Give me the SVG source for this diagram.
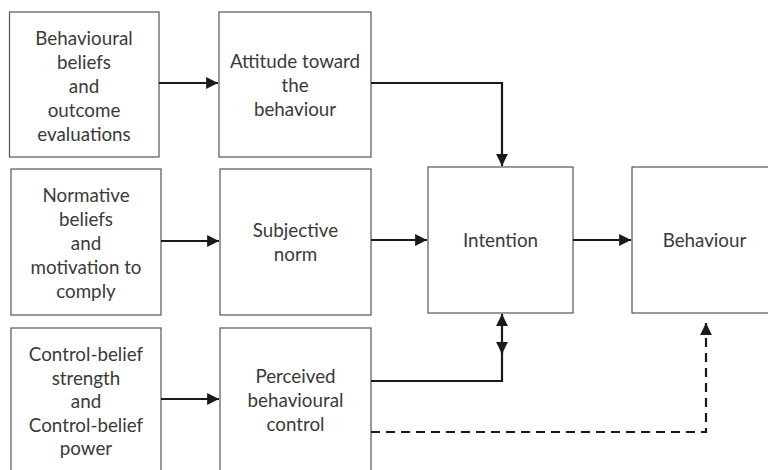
<svg xmlns="http://www.w3.org/2000/svg" width="768" height="470" viewBox="0 0 768 470">
<style>
.box{fill:#fff;stroke:#555;stroke-width:1.2}
.t{font-family:Lato,"Open Sans","Liberation Sans",sans-serif;font-size:18.8px;fill:#3a3a3a;text-anchor:middle}
.c{fill:none;stroke:#1a1a1a;stroke-width:2.2}
.d{stroke-dasharray:9,6}
</style>
<defs>
<marker id="ah" viewBox="0 0 10 10" refX="10" refY="5" markerWidth="5.4" markerHeight="5.4" orient="auto" markerUnits="strokeWidth">
<path d="M0,0L10,5L0,10z" fill="#1a1a1a"/>
</marker>
<marker id="as" viewBox="0 0 10 10" refX="0" refY="5" markerWidth="5.4" markerHeight="5.4" orient="auto" markerUnits="strokeWidth">
<path d="M10,0L0,5L10,10z" fill="#1a1a1a"/>
</marker>
</defs>
<rect width="768" height="470" fill="#fff"/>
<g id="n1"><rect class="box" x="9.5" y="12" width="149.5" height="145"/>
<text class="t"><tspan x="84" y="45">Behavioural</tspan><tspan x="84" y="69">beliefs</tspan><tspan x="84" y="93">and</tspan><tspan x="84" y="117">outcome</tspan><tspan x="84" y="141">evaluations</tspan></text></g>
<g id="n2"><rect class="box" x="219" y="12" width="152" height="145"/>
<text class="t"><tspan x="295" y="68">Attitude toward</tspan><tspan x="295" y="92">the</tspan><tspan x="295" y="116">behaviour</tspan></text></g>
<g id="n3"><rect class="box" x="11" y="169" width="150" height="146"/>
<text class="t"><tspan x="86" y="202">Normative</tspan><tspan x="86" y="226">beliefs</tspan><tspan x="86" y="250">and</tspan><tspan x="86" y="274">motivation to</tspan><tspan x="86" y="298">comply</tspan></text></g>
<g id="n4"><rect class="box" x="220" y="169" width="151" height="146"/>
<text class="t"><tspan x="295.5" y="237">Subjective</tspan><tspan x="295.5" y="261">norm</tspan></text></g>
<g id="n5"><rect class="box" x="11" y="328" width="150" height="160"/>
<text class="t"><tspan x="86" y="361">Control-belief</tspan><tspan x="86" y="384.5">strength</tspan><tspan x="86" y="408">and</tspan><tspan x="86" y="431.5">Control-belief</tspan><tspan x="86" y="455">power</tspan></text></g>
<g id="n6"><rect class="box" x="220" y="328" width="151" height="160"/>
<text class="t"><tspan x="295.5" y="383">Perceived</tspan><tspan x="295.5" y="407">behavioural</tspan><tspan x="295.5" y="431">control</tspan></text></g>
<g id="n7"><rect class="box" x="428" y="167" width="145" height="146"/>
<text class="t" x="500.5" y="247">Intention</text></g>
<g id="n8"><rect class="box" x="632" y="167" width="150" height="146"/>
<text class="t" x="704.5" y="247">Behaviour</text></g>
<g id="connectors">
<path class="c" d="M159,83H218" marker-end="url(#ah)"/>
<path class="c" d="M161,241H219" marker-end="url(#ah)"/>
<path class="c" d="M161,399H219" marker-end="url(#ah)"/>
<path class="c" d="M371,83H502V166" marker-end="url(#ah)"/>
<path class="c" d="M371,240H427" marker-end="url(#ah)"/>
<path class="c" d="M573,240H631" marker-end="url(#ah)"/>
<path class="c" d="M502,314V354" marker-start="url(#as)" marker-end="url(#ah)"/>
<path class="c" d="M502,350V381H371"/>
<path class="c d" d="M371,432H706V323" marker-end="url(#ah)"/>
</g>
</svg>
